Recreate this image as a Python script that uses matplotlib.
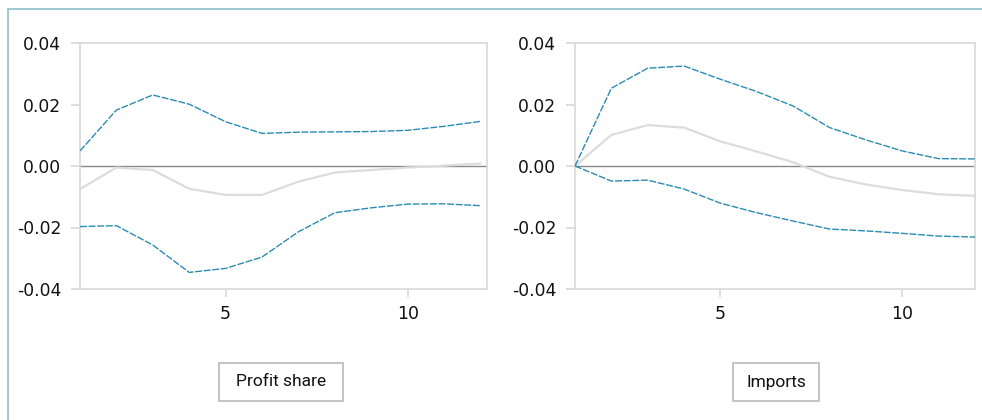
import matplotlib
matplotlib.use("Agg")
import matplotlib.pyplot as plt
from matplotlib.patches import Rectangle

plt.rcParams['font.family'] = ['DejaVu Sans']

horizon = list(range(1, 13))

profit_upper = [0.0049, 0.0182, 0.0231, 0.0201, 0.0144, 0.0106, 0.0110, 0.0111, 0.0112, 0.0116, 0.0129, 0.0145]
profit_mid = [-0.0075, -0.0005, -0.0013, -0.0074, -0.0094, -0.0094, -0.0051, -0.0021, -0.0013, -0.0005, 0.0001, 0.0008]
profit_lower = [-0.0197, -0.0194, -0.0257, -0.0346, -0.0333, -0.0296, -0.0214, -0.0152, -0.0136, -0.0124, -0.0123, -0.0129]

imports_upper = [0.0000, 0.0253, 0.0318, 0.0325, 0.0282, 0.0242, 0.0195, 0.0125, 0.0085, 0.0049, 0.0024, 0.0023]
imports_mid = [0.0000, 0.0101, 0.0133, 0.0125, 0.0080, 0.0047, 0.0012, -0.0035, -0.0060, -0.0078, -0.0092, -0.0097]
imports_lower = [0.0000, -0.0049, -0.0046, -0.0075, -0.0121, -0.0152, -0.0179, -0.0205, -0.0211, -0.0219, -0.0228, -0.0231]

panel_titles = ["Profit share", "Imports"]
y_ticks = [-0.04, -0.02, 0.00, 0.02, 0.04]
y_tick_labels = ["-0.04", "-0.02", "0.00", "0.02", "0.04"]
x_ticks = [5, 10]

BLUE = "#2b8cb3"
MID = "#dcdcdc"
SPINE = "#d8d8d8"

W, H = 982, 420
fig = plt.figure(figsize=(W / 100, H / 100), dpi=100)

# outer frame (left and top edges visible)
fig.patches.append(Rectangle((8 / W, -0.05), 1.2, 1 - 9 / H + 0.05,
                             transform=fig.transFigure, fill=False,
                             edgecolor="#8cbfd0", linewidth=1.2))

# panel geometry in pixels: axes box and caption box
panels = [
    dict(up=profit_upper, mid=profit_mid, lo=profit_lower,
         axes=(80, 43, 407, 246), xmax=12.18, label_box=(219, 363, 124, 38)),
    dict(up=imports_upper, mid=imports_mid, lo=imports_lower,
         axes=(575, 43, 400, 246), xmax=12.0, label_box=(733, 363, 86, 38)),
]

for p, title in zip(panels, panel_titles):
    x0, y0, w, h = p["axes"]
    ax = fig.add_axes([x0 / W, 1 - (y0 + h) / H, w / W, h / H])
    ax.axhline(0, color="#8a8a8a", lw=1.0, zorder=1)
    ax.plot(horizon, p["mid"], color=MID, lw=1.6, zorder=2)
    ax.plot(horizon, p["up"], color=BLUE, lw=1.0, ls=(0, (5, 1.2)), zorder=3)
    ax.plot(horizon, p["lo"], color=BLUE, lw=1.0, ls=(0, (5, 1.2)), zorder=3)
    ax.set_xlim(1, p["xmax"])
    ax.set_ylim(-0.04, 0.04)
    ax.set_yticks(y_ticks)
    ax.set_yticklabels(y_tick_labels)
    ax.set_xticks(x_ticks)
    for s in ax.spines.values():
        s.set_color(SPINE)
        s.set_linewidth(1.2)
    ax.tick_params(axis="y", length=6.5, width=1.2, color=SPINE, pad=7,
                   labelsize=12.3, labelcolor="#111111")
    ax.tick_params(axis="x", length=5.5, width=1.2, color=SPINE, pad=6,
                   labelsize=12.5, labelcolor="#111111")

    bx, by, bw, bh = p["label_box"]
    fig.patches.append(Rectangle((bx / W, 1 - (by + bh) / H), bw / W, bh / H,
                                 transform=fig.transFigure, facecolor="white",
                                 edgecolor="#c4c4c4", linewidth=1.4))
    fig.text((bx + bw / 2) / W, 1 - (by + bh / 2) / H, title,
             ha="center", va="center", fontsize=12.5, color="#111111",
             family=["Roboto", "DejaVu Sans"])

fig.savefig("out.png", dpi=100)
